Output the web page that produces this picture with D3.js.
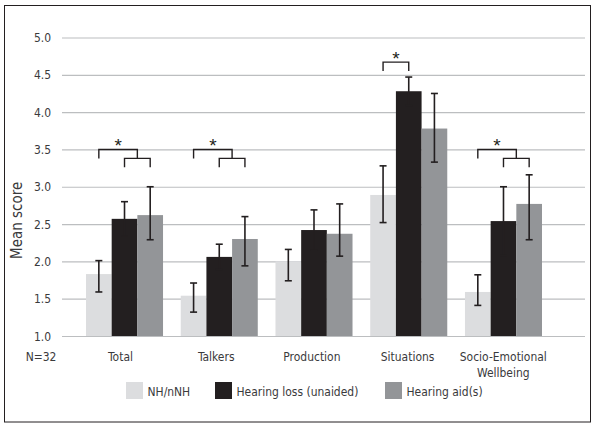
<!DOCTYPE html>
<html>
<head>
<meta charset="utf-8">
<script src="https://cdn.jsdelivr.net/npm/d3@7"></script>
<style>
  body { margin: 0; background: #fff; }
  text { font-family: "DejaVu Sans Condensed", "DejaVu Sans", sans-serif; }
</style>
</head>
<body>
<svg id="chart" width="596" height="427"></svg>
<script>
// data
const categories = ['Total', 'Talkers', 'Production', 'Situations', 'Socio-Emotional Wellbeing'];
const series = ['NH/nNH', 'Hearing loss (unaided)', 'Hearing aid(s)'];
const colors = ['#dcdddf', '#231f20', '#939598'];
const nhMeans = [1.83, 1.54, 2.00, 2.89, 1.59];
const nhLow = [1.59, 1.32, 1.74, 2.52, 1.41];
const nhHigh = [2.01, 1.71, 2.16, 3.28, 1.82];
const hlMeans = [2.57, 2.06, 2.42, 4.28, 2.54];
const hlLow = [2.34, 1.89, 2.15, 4.09, 2.08];
const hlHigh = [2.80, 2.23, 2.69, 4.47, 3.00];
const haMeans = [2.62, 2.30, 2.37, 3.78, 2.77];
const haLow = [2.29, 1.94, 2.07, 3.33, 2.29];
const haHigh = [3.00, 2.60, 2.77, 4.25, 3.16];
const yTicks = [1.0, 1.5, 2.0, 2.5, 3.0, 3.5, 4.0, 4.5, 5.0];
// significance brackets: three-way (NH vs HL & HA) or pair (NH vs HL)
const sig = [
  { cat: 'Total', kind: 'triple', level: 3.5 },
  { cat: 'Talkers', kind: 'triple', level: 3.5 },
  { cat: 'Situations', kind: 'pair', level: 4.67 },
  { cat: 'Socio-Emotional Wellbeing', kind: 'triple', level: 3.5 }
];

const means = [nhMeans, hlMeans, haMeans];
const lows = [nhLow, hlLow, haLow];
const highs = [nhHigh, hlHigh, haHigh];

const textColor = '#3a3a3c';
const squeeze = 0.92; // the original uses a condensed face

const svg = d3.select('#chart');

// narrow text helper
function label(parent, x, yPos, str, size, anchor) {
  const g = parent.append('g')
    .attr('transform', `translate(${x},${yPos}) scale(${squeeze},1)`);
  g.append('text')
    .attr('text-anchor', anchor || 'middle')
    .attr('font-size', size)
    .style('fill', textColor)
    .text(str);
  return g;
}

svg.append('rect')
  .attr('x', 4.5).attr('y', 5.5)
  .attr('width', 586).attr('height', 416.5)
  .attr('fill', 'none')
  .attr('stroke', '#231f20')
  .attr('stroke-width', 1);

const y = d3.scaleLinear().domain([1, 5]).range([336, 37.5]);

const x0 = d3.scaleBand()
  .domain(categories)
  .range([86, 542])
  .paddingInner(0.187)
  .paddingOuter(0);

const x1 = d3.scaleBand()
  .domain(series)
  .range([0, x0.bandwidth()]);

// gridlines
const yAxis = d3.axisLeft(y)
  .tickValues(yTicks)
  .tickFormat('')
  .tickSize(0);

const gy = svg.append('g')
  .attr('transform', 'translate(62,0)')
  .call(yAxis);
gy.select('.domain').remove();
gy.selectAll('.tick line')
  .attr('x1', 0)
  .attr('x2', 523)
  .attr('stroke', '#bcbec0')
  .attr('stroke-width', 1.2);

// y tick labels
const fmt = d3.format('.1f');
yTicks.forEach((t) => {
  label(svg, 51, y(t) + 4.6, fmt(t), 13, 'end');
});

svg.append('text')
  .attr('transform', `translate(22,${y(2.55)}) rotate(-90)`)
  .attr('text-anchor', 'middle')
  .attr('font-size', 15)
  .style('fill', textColor)
  .text('Mean score');

// bars
const groups = svg.append('g')
  .selectAll('g')
  .data(categories)
  .join('g')
  .attr('transform', (d) => `translate(${x0(d)},0)`);

series.forEach((s, si) => {
  groups.append('rect')
    .attr('x', x1(s))
    .attr('y', (d, i) => y(means[si][i]))
    .attr('width', x1.bandwidth())
    .attr('height', (d, i) => y(1) - y(means[si][i]))
    .attr('fill', colors[si]);
});

// error bars
series.forEach((s, si) => {
  const cx = x1(s) + x1.bandwidth() / 2;
  const eb = groups.append('g').attr('stroke', '#231f20').attr('stroke-width', 1.6);
  eb.append('line')
    .attr('x1', cx).attr('x2', cx)
    .attr('y1', (d, i) => y(highs[si][i]))
    .attr('y2', (d, i) => y(lows[si][i]));
  [highs, lows].forEach((arr) => {
    eb.append('line')
      .attr('x1', cx - 3.5).attr('x2', cx + 3.5)
      .attr('y1', (d, i) => y(arr[si][i]))
      .attr('y2', (d, i) => y(arr[si][i]));
  });
});

// significance brackets
const cen = (cat, s) => x0(cat) + x1(s) + x1.bandwidth() / 2;
const legY = y(1) - y(1.12); // leg length in px
const gs = svg.append('g');
sig.forEach((b) => {
  const a = cen(b.cat, series[0]);
  const h = cen(b.cat, series[1]);
  const g = cen(b.cat, series[2]);
  const top = y(b.level);
  let path, starX;
  if (b.kind === 'pair') {
    path = `M${a},${top + legY}V${top}H${h}V${top + legY}`;
    starX = (a + h) / 2;
  } else {
    const mid = (h + g) / 2;
    const inner = top + legY;
    path = `M${a},${top + legY}V${top}H${mid}V${inner}` +
      `M${h},${inner + legY}V${inner}H${g}V${inner + legY}`;
    starX = (a + mid) / 2;
  }
  gs.append('path')
    .attr('d', path)
    .attr('fill', 'none')
    .attr('stroke', '#231f20')
    .attr('stroke-width', 1.4);
  gs.append('text')
    .attr('x', starX)
    .attr('y', top + 3)
    .attr('text-anchor', 'middle')
    .attr('font-size', 19)
    .style('font-family', '"Liberation Sans", sans-serif')
    .style('fill', '#231f20')
    .text('*');
});

// category labels
const xl = d3.scalePoint().domain(categories).range([120.5, 503.3]);
const labelLines = { 'Socio-Emotional Wellbeing': ['Socio-Emotional', 'Wellbeing'] };
categories.forEach((c) => {
  const lines = labelLines[c] || [c];
  lines.forEach((ln, li) => {
    label(svg, xl(c), 360.5 + li * 16.2, ln, 13);
  });
});
label(svg, 41, 360.5, 'N=32', 13);

// legend
const legendX = [126, 215, 385];
const lg = svg.append('g')
  .selectAll('g')
  .data(series)
  .join('g')
  .attr('transform', (d, i) => `translate(${legendX[i]},382)`);
lg.append('rect')
  .attr('width', 17)
  .attr('height', 17)
  .attr('fill', (d, i) => colors[i]);
lg.each(function (d) {
  label(d3.select(this), 21.5, 13.5, d, 13, 'start');
});
</script>
</body>
</html>
